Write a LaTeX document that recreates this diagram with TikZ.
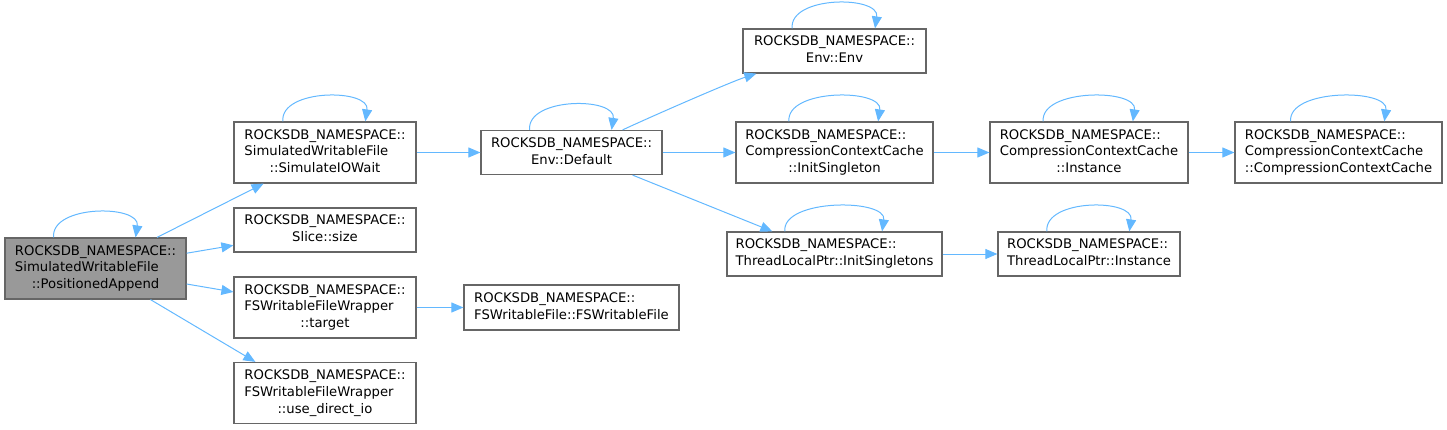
\documentclass[tikz,border=0pt]{standalone}
\usepackage{fontspec}
\setmainfont{DejaVu Sans}
\usetikzlibrary{arrows.meta,calc}
\definecolor{edgec}{HTML}{63B8FF}
\definecolor{boxc}{HTML}{666666}
\definecolor{fillc}{HTML}{999999}
\newcommand\lblA[2]{\begin{tabular}{@{}l@{}}#1\\\multicolumn{1}{@{}c@{}}{#2}\end{tabular}}
\newcommand\lblB[3]{\begin{tabular}{@{}l@{}}#1\\#2\\\multicolumn{1}{@{}c@{}}{#3}\end{tabular}}
\newcommand\selfloop[1]{\draw[conn] ($(#1.north west)!0.27!(#1.north east)$) .. controls +(-3,-33) and +(5,-33) .. ($(#1.north west)!0.72!(#1.north east)$);}
\tikzset{
  box/.style={draw=boxc, line width=1.2pt, fill=white, inner sep=0pt,
    font=\fontsize{13.2}{16.7}\selectfont},
  conn/.style={draw=edgec, line width=1pt, -{Triangle[length=12pt,width=10pt]}},
}
\begin{document}
\begin{tikzpicture}[x=1pt,y=-1pt]
\useasboundingbox (0,0) rectangle (1447,429);
\def\NS{ROCKSDB\_NAMESPACE::}
% nodes
\node[box, fill=fillc, minimum width=181pt, minimum height=61pt] (pa) at (95.5,268.5) {\lblB{\NS}{SimulatedWritableFile}{::PositionedAppend}};
\node[box, minimum width=182pt, minimum height=61pt] (siow) at (325,152.5) {\lblB{\NS}{SimulatedWritableFile}{::SimulateIOWait}};
\node[box, minimum width=182pt, minimum height=44pt] (slice) at (325,230) {\lblA{\NS}{Slice::size}};
\node[box, minimum width=182pt, minimum height=61pt] (target) at (325,307.5) {\lblB{\NS}{FSWritableFileWrapper}{::target}};
\node[box, minimum width=182pt, minimum height=61pt] (udio) at (325,393) {\lblB{\NS}{FSWritableFileWrapper}{::use\_direct\_io}};
\node[box, minimum width=215pt, minimum height=45pt] (fswf) at (571.5,307.5) {\lblA{\NS}{FSWritableFile::FSWritableFile}};
\node[box, minimum width=181pt, minimum height=44pt] (def) at (571.5,152.5) {\lblA{\NS}{Env::Default}};
\node[box, minimum width=183pt, minimum height=44pt] (env) at (834.5,51) {\lblA{\NS}{Env::Env}};
\node[box, minimum width=197pt, minimum height=61pt] (ccis) at (834.5,152.5) {\lblB{\NS}{CompressionContextCache}{::InitSingleton}};
\node[box, minimum width=198pt, minimum height=61pt] (ccin) at (1089,152.5) {\lblB{\NS}{CompressionContextCache}{::Instance}};
\node[box, minimum width=207pt, minimum height=61pt] (ccc) at (1338.5,152.5) {\lblB{\NS}{CompressionContextCache}{::CompressionContextCache}};
\node[box, minimum width=215pt, minimum height=44pt] (tlis) at (834.5,254) {\lblA{\NS}{ThreadLocalPtr::InitSingletons}};
\node[box, minimum width=182pt, minimum height=44pt] (tlin) at (1089,254) {\lblA{\NS}{ThreadLocalPtr::Instance}};
% self loops
\selfloop{pa}
\selfloop{siow}
\selfloop{def}
\selfloop{env}
\selfloop{ccis}
\selfloop{ccin}
\selfloop{ccc}
\selfloop{tlis}
\selfloop{tlin}
% connectors
\draw[conn] (pa) -- (siow);
\draw[conn] (pa) -- (slice);
\draw[conn] (pa) -- (target);
\draw[conn] ($(pa.south)+(55,0)$) -- ($(udio.north west)+(22,0)$);
\draw[conn] (siow) -- (def);
\draw[conn] ($(def.north east)+(-40,0)$) .. controls +(30,-14) and +(-25,8) .. ($(env.south west)+(14,0)$);
\draw[conn] (def) -- (ccis);
\draw[conn] ($(def.south east)+(-30,0)$) -- ($(tlis.north west)+(46,0)$);
\draw[conn] (ccis) -- (ccin);
\draw[conn] (ccin) -- (ccc);
\draw[conn] (tlis) -- (tlin);
\draw[conn] (target) -- (fswf);
\end{tikzpicture}
\end{document}
